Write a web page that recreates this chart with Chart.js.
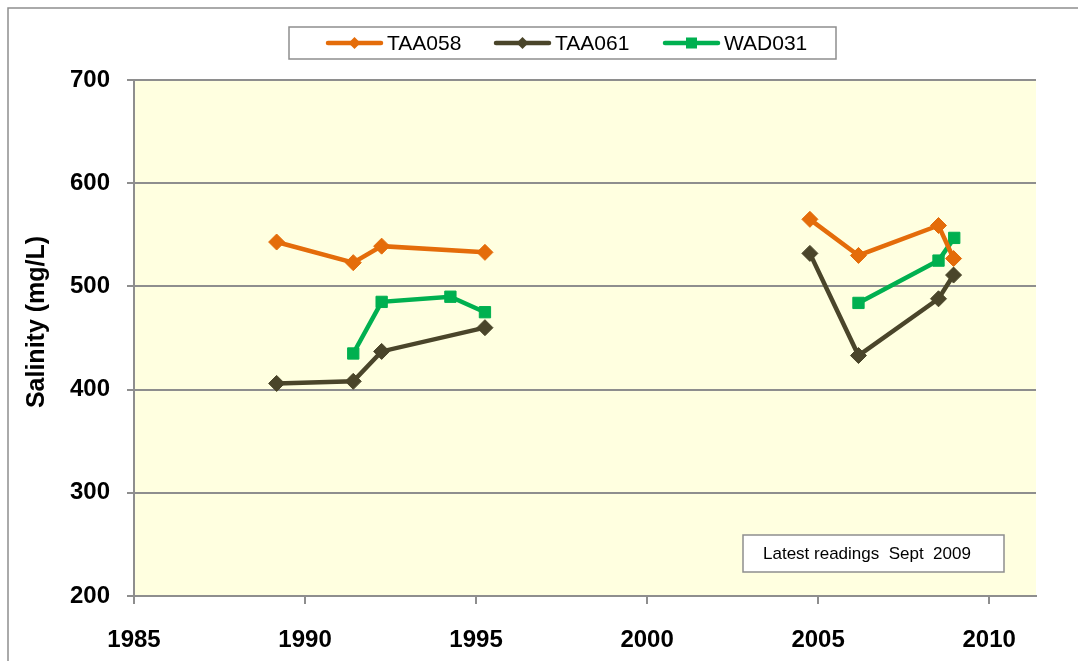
<!DOCTYPE html>
<html>
<head>
<meta charset="utf-8">
<script src="https://cdn.jsdelivr.net/npm/chart.js@4/dist/chart.umd.min.js"></script>
<style>
html,body{margin:0;padding:0;background:#fff;}
#wrap{width:1078px;height:661px;position:relative;}
</style>
</head>
<body>
<div id="wrap"><canvas id="c" width="1078" height="661"></canvas></div>
<script>
// ---- data ----
const seriesNames = ['TAA058', 'TAA061', 'WAD031'];
const taa058Years  = [1989.17, 1991.41, 1992.24, 1995.26, null, 2004.76, 2006.18, 2008.52, 2008.96];
const taa058Values = [543, 523, 539, 533, null, 565, 530, 559, 527];
const taa061Years  = [1989.17, 1991.41, 1992.24, 1995.26, null, 2004.76, 2006.18, 2008.52, 2008.96];
const taa061Values = [406, 408, 437, 460, null, 532, 433, 488, 511];
const wad031Years  = [1991.41, 1992.24, 1994.25, 1995.26, null, 2006.18, 2008.52, 2008.98];
const wad031Values = [435, 485, 490, 475, null, 484, 525, 547];
const xTickYears = [1985, 1990, 1995, 2000, 2005, 2010];
const yTickValues = [200, 300, 400, 500, 600, 700];
const yAxisTitle = 'Salinity (mg/L)';
const noteText = 'Latest readings  Sept  2009';

const colors = ['#E46C0A', '#4A452A', '#00B050'];
const styles = ['rectRot', 'rectRot', 'rect'];

function toPoints(xs, ys) {
  return xs.map((x, i) => ({ x: x === null ? (xs[i-1] + 1) : x, y: ys[i] }));
}

const datasets = [
  [taa058Years, taa058Values],
  [taa061Years, taa061Values],
  [wad031Years, wad031Values]
].map((d, i) => ({
  label: seriesNames[i],
  data: toPoints(d[0], d[1]),
  borderColor: colors[i],
  backgroundColor: colors[i],
  borderWidth: 4.5,
  pointStyle: styles[i],
  pointRadius: 8,
  pointBorderWidth: 1,
  pointBorderColor: colors[i],
  pointBackgroundColor: colors[i],
  spanGaps: false,
  tension: 0
}));

const FONT = '"Liberation Sans", Arial, sans-serif';
const GRID = '#8E8E8E';

const decor = {
  id: 'decor',
  beforeDraw(chart) {
    const { ctx, chartArea: a } = chart;
    ctx.save();
    ctx.fillStyle = '#FFFFE0';
    ctx.fillRect(a.left, a.top, a.right - a.left, a.bottom - a.top);
    // outer chart border
    ctx.strokeStyle = GRID;
    ctx.lineWidth = 1.5;
    ctx.beginPath();
    ctx.moveTo(8, 700);
    ctx.lineTo(8, 8);
    ctx.lineTo(1100, 8);
    ctx.stroke();
    ctx.restore();
  },
  afterDraw(chart) {
    const { ctx } = chart;
    ctx.save();
    // y axis title
    ctx.save();
    ctx.translate(37, 322);
    ctx.rotate(-Math.PI / 2);
    ctx.fillStyle = '#000';
    ctx.font = 'bold 25px ' + FONT;
    ctx.textAlign = 'center';
    ctx.textBaseline = 'middle';
    ctx.fillText(yAxisTitle, 0, 0);
    ctx.restore();

    // legend
    ctx.fillStyle = '#fff';
    ctx.fillRect(289, 27, 547, 32);
    ctx.strokeStyle = GRID;
    ctx.lineWidth = 1.5;
    ctx.strokeRect(289, 27, 547, 32);
    const lx = [328, 496, 665];
    const ly = 43;
    ctx.font = '21px ' + FONT;
    ctx.textBaseline = 'middle';
    ctx.textAlign = 'left';
    seriesNames.forEach((n, i) => {
      ctx.strokeStyle = colors[i];
      ctx.lineWidth = 4.5;
      ctx.lineCap = 'round';
      ctx.beginPath();
      ctx.moveTo(lx[i], ly);
      ctx.lineTo(lx[i] + 53, ly);
      ctx.stroke();
      ctx.fillStyle = colors[i];
      const cx = lx[i] + 26.5;
      if (styles[i] === 'rect') {
        ctx.fillRect(cx - 5.5, ly - 5.5, 11, 11);
      } else {
        ctx.beginPath();
        ctx.moveTo(cx, ly - 6); ctx.lineTo(cx + 6, ly); ctx.lineTo(cx, ly + 6); ctx.lineTo(cx - 6, ly);
        ctx.closePath(); ctx.fill();
      }
      ctx.fillStyle = '#000';
      ctx.fillText(n, lx[i] + 59, ly + 1);
    });

    // note box
    ctx.fillStyle = '#fff';
    ctx.fillRect(743, 535, 261, 37);
    ctx.strokeStyle = GRID;
    ctx.lineWidth = 1.5;
    ctx.strokeRect(743, 535, 261, 37);
    ctx.fillStyle = '#000';
    ctx.font = '17px ' + FONT;
    ctx.textAlign = 'left';
    ctx.textBaseline = 'middle';
    ctx.fillText(noteText, 763, 554);
    ctx.restore();
  }
};

new Chart(document.getElementById('c'), {
  type: 'line',
  data: { datasets },
  plugins: [decor],
  options: {
    responsive: false,
    animation: false,
    devicePixelRatio: 1,
    layout: { padding: { top: 80, right: 42, bottom: 0, left: 0 } },
    plugins: { legend: { display: false }, tooltip: { enabled: false } },
    scales: {
      x: {
        type: 'linear',
        min: 1985,
        max: 2011.37,
        afterBuildTicks(s) { s.ticks = xTickYears.map(v => ({ value: v })); },
        afterFit(s) { s.height = 65; },
        grid: { drawOnChartArea: false, drawTicks: true, tickLength: 8, color: GRID, lineWidth: 2 },
        border: { display: true, color: GRID, width: 2 },
        ticks: { color: '#000', font: { family: FONT, size: 24, weight: 'bold' }, padding: 22, maxRotation: 0, autoSkip: false,
                 callback: v => String(v) }
      },
      y: {
        min: 200,
        max: 700,
        afterBuildTicks(s) { s.ticks = yTickValues.map(v => ({ value: v })); },
        afterFit(s) { s.width = 134; },
        grid: { drawOnChartArea: true, drawTicks: true, tickLength: 7, color: GRID, lineWidth: 2 },
        border: { display: true, color: GRID, width: 2 },
        ticks: { color: '#000', font: { family: FONT, size: 24, weight: 'bold' }, padding: 17, autoSkip: false }
      }
    }
  }
});
</script>
</body>
</html>
